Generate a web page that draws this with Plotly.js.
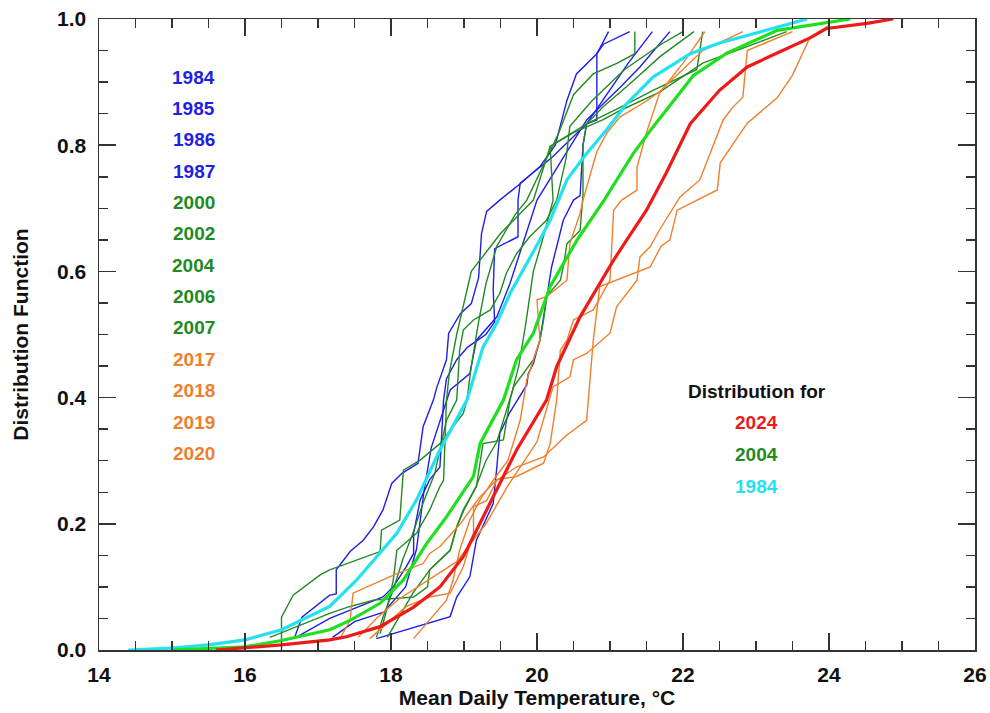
<!DOCTYPE html>
<html>
<head>
<meta charset="utf-8">
<script src="https://cdn.plot.ly/plotly-3.0.1.min.js"></script>
<style>html,body{margin:0;padding:0;background:#fff;}#chart{width:990px;height:713px;}</style>
</head>
<body>
<div id="chart"></div>
<script>
// ---- thin yearly distributions ----
var x1984 = [16.68,16.78,17.16,17.25,17.25,17.44,17.62,17.76,17.89,18.01,18.15,18.37,18.44,18.58,18.63,18.76,18.79,18.95,19.1,19.2,19.24,19.31,19.49,19.77,20.04,20.25,20.41,20.54,20.82,20.98];
var y1984 = [0.02,0.052,0.087,0.089,0.127,0.156,0.174,0.195,0.222,0.264,0.28,0.296,0.354,0.396,0.417,0.46,0.502,0.533,0.549,0.59,0.66,0.695,0.713,0.739,0.766,0.80,0.871,0.913,0.945,0.98];
var x1985 = [16.7,17.16,17.89,18.03,18.21,18.31,18.31,18.4,18.53,18.67,18.72,18.76,18.9,19.05,19.3,19.42,19.4,19.42,19.74,19.74,19.77,20.2,20.68,20.82,20.82,20.91,21.27];
var y1985 = [0.02,0.05,0.084,0.10,0.132,0.153,0.185,0.238,0.27,0.29,0.396,0.43,0.46,0.48,0.50,0.52,0.57,0.636,0.655,0.713,0.74,0.78,0.834,0.84,0.945,0.96,0.98];
var x1986 = [17.8,18.81,18.9,19.08,19.17,19.4,19.45,19.49,19.62,19.86,19.88,19.95,20.04,20.13,20.2,20.36,20.5,20.59,20.63,20.68,20.95,21.25,21.58];
var y1986 = [0.018,0.053,0.084,0.116,0.174,0.232,0.29,0.343,0.375,0.42,0.438,0.454,0.491,0.554,0.607,0.681,0.713,0.72,0.80,0.834,0.88,0.93,0.98];
var x1987 = [17.2,17.5,17.9,18.2,18.35,18.45,18.55,18.67,18.81,19.08,19.17,19.45,19.63,20.0,20.3,20.68,21.14,21.41,21.82];
var y1987 = [0.02,0.045,0.06,0.10,0.16,0.25,0.32,0.364,0.412,0.438,0.491,0.528,0.581,0.713,0.77,0.84,0.892,0.924,0.98];
var x2000 = [16.5,16.5,16.66,17.03,17.16,17.85,17.87,18.12,18.17,18.4,18.67,18.99,19.04,19.1,19.2,19.3,19.45,19.7,19.86,20.13,20.3,20.5,20.77,21.1,21.34,21.34];
var y2000 = [0.0,0.052,0.087,0.119,0.127,0.156,0.19,0.206,0.285,0.301,0.327,0.375,0.396,0.45,0.52,0.58,0.64,0.69,0.713,0.78,0.82,0.88,0.913,0.93,0.945,0.98];
var x2002 = [16.34,17.16,17.44,17.76,18.31,18.5,18.53,18.81,18.9,18.99,19.17,19.26,19.54,19.63,19.75,19.85,19.95,20.1,20.22,20.2,20.18,20.68,21.14,21.59,22.19,22.27];
var y2002 = [0.02,0.058,0.069,0.079,0.084,0.10,0.127,0.158,0.195,0.222,0.259,0.327,0.333,0.396,0.45,0.52,0.60,0.66,0.713,0.76,0.798,0.834,0.86,0.887,0.92,0.98];
var x2004 = [17.8,17.89,18.03,18.16,18.3,18.44,18.6,18.76,18.9,18.92,18.94,18.99,19.13,19.36,19.49,19.58,19.72,19.9,20.13,20.27,20.4,20.45,20.75,21.2,21.7,22.0];
var y2004 = [0.02,0.052,0.095,0.143,0.185,0.233,0.28,0.364,0.396,0.438,0.475,0.507,0.523,0.539,0.565,0.597,0.628,0.655,0.681,0.713,0.78,0.83,0.87,0.92,0.96,0.98];
var x2006 = [17.95,18.3,18.53,18.81,18.9,19.0,19.17,19.3,19.45,19.54,19.68,19.95,20.04,20.09,20.13,20.32,20.36,20.41,20.59,20.63,20.63,20.68,20.9,21.3,21.68,22.15];
var y2006 = [0.02,0.09,0.127,0.158,0.195,0.222,0.26,0.30,0.33,0.364,0.417,0.46,0.491,0.523,0.56,0.586,0.607,0.644,0.665,0.72,0.80,0.834,0.86,0.90,0.94,0.98];
var x2007 = [17.85,17.94,18.03,18.08,18.35,18.53,18.67,18.72,18.76,18.8,18.9,19.0,19.1,19.3,19.5,19.95,20.18,20.5,20.9,21.14,21.68,22.27,23.42];
var y2007 = [0.026,0.063,0.11,0.158,0.185,0.222,0.259,0.269,0.396,0.44,0.50,0.55,0.60,0.63,0.66,0.713,0.798,0.82,0.84,0.855,0.884,0.93,0.98];
var x2017 = [17.3,17.44,17.48,17.67,18.08,18.44,18.53,18.67,18.95,19.2,19.45,19.72,20.09,20.18,20.27,20.32,20.41,20.5,20.59,20.77,21.0,21.05,21.16,21.37,21.37,21.5,21.68,22.0,22.3];
var y2017 = [0.018,0.047,0.09,0.10,0.121,0.137,0.153,0.164,0.20,0.24,0.27,0.275,0.296,0.327,0.396,0.475,0.491,0.523,0.528,0.539,0.586,0.697,0.713,0.729,0.765,0.82,0.883,0.93,0.98];
var x2018 = [17.71,17.99,18.21,18.53,18.81,18.99,19.13,19.13,19.31,19.45,19.72,20.09,20.4,20.68,20.77,20.86,21.55,21.7,21.82,21.92,22.47,22.51,22.88,23.29,23.5,23.74,24.0];
var y2018 = [0.018,0.047,0.069,0.084,0.09,0.132,0.185,0.227,0.237,0.269,0.29,0.306,0.34,0.364,0.49,0.576,0.607,0.64,0.65,0.697,0.729,0.772,0.835,0.875,0.911,0.971,0.99];
var x2019 = [18.31,18.53,18.76,18.85,18.94,19.08,19.22,19.4,19.6,19.77,19.86,20.04,20.0,20.13,20.41,20.45,20.59,20.63,20.82,20.96,21.14,21.5,21.68,22.27,22.82];
var y2019 = [0.018,0.047,0.079,0.111,0.158,0.206,0.238,0.269,0.30,0.364,0.428,0.491,0.555,0.56,0.586,0.644,0.692,0.713,0.79,0.82,0.845,0.87,0.885,0.95,0.98];
var x2020 = [17.55,17.8,18.1,18.5,18.9,19.3,19.6,20.0,20.22,20.45,20.5,20.68,21.0,21.09,21.37,21.41,21.55,21.68,21.96,22.23,22.41,22.55,22.68,22.82,22.88,23.5];
var y2020 = [0.02,0.05,0.08,0.11,0.14,0.20,0.26,0.33,0.417,0.433,0.46,0.47,0.502,0.544,0.586,0.623,0.639,0.666,0.718,0.745,0.80,0.84,0.86,0.876,0.95,0.98];

// ---- thick fitted distributions ----
var xDist1984 = [14.4,15.0,15.5,16.0,16.5,17.16,17.53,17.85,18.08,18.35,18.67,19.04,19.26,19.45,19.63,20.04,20.18,20.41,20.68,20.95,21.23,21.59,22.1,22.5,23.05,23.7];
var yDist1984 = [0.0,0.003,0.008,0.016,0.032,0.069,0.111,0.153,0.185,0.238,0.317,0.396,0.48,0.518,0.565,0.65,0.681,0.745,0.787,0.824,0.866,0.908,0.945,0.962,0.98,1.0];
var xDist2004 = [15.0,15.5,16.0,16.5,17.16,17.44,17.85,18.17,18.49,18.76,19.13,19.22,19.54,19.72,19.95,20.18,20.55,20.92,21.32,21.59,21.87,22.14,22.6,23.29,24.29];
var yDist2004 = [0.0,0.002,0.005,0.015,0.032,0.047,0.074,0.111,0.169,0.211,0.275,0.327,0.396,0.46,0.502,0.576,0.65,0.713,0.787,0.829,0.871,0.91,0.946,0.982,1.0];
var xDist2024 = [15.6,16.0,16.5,17.16,17.39,17.85,18.31,18.67,18.99,19.31,19.72,20.13,20.27,20.59,20.86,21.05,21.23,21.5,21.77,22.1,22.5,22.88,23.29,23.74,23.97,24.52,24.88];
var yDist2024 = [0.0,0.004,0.008,0.016,0.021,0.037,0.068,0.10,0.148,0.222,0.317,0.396,0.449,0.528,0.581,0.618,0.65,0.697,0.756,0.834,0.887,0.924,0.946,0.97,0.985,0.993,1.0];

var yearLabels = ["1984","1985","1986","1987","2000","2002","2004","2006","2007","2017","2018","2019","2020"];
var distLabels = ["2024","2004","1984"];

var BLUE = "#1f1fe6", DKGREEN = "#238a23", ORANGE = "#f07f2c";
var RED = "#ee1a1a", LTGREEN = "#1ee01e", CYAN = "#22e2f0";

var thin = [
  [x1984,y1984,BLUE],[x1985,y1985,BLUE],[x1986,y1986,BLUE],[x1987,y1987,BLUE],
  [x2000,y2000,DKGREEN],[x2002,y2002,DKGREEN],[x2004,y2004,DKGREEN],[x2006,y2006,DKGREEN],[x2007,y2007,DKGREEN],
  [x2017,y2017,ORANGE],[x2018,y2018,ORANGE],[x2019,y2019,ORANGE],[x2020,y2020,ORANGE]
];
var yearColors = [BLUE,BLUE,BLUE,BLUE,DKGREEN,DKGREEN,DKGREEN,DKGREEN,DKGREEN,ORANGE,ORANGE,ORANGE,ORANGE];

var traces = thin.map(function(t,i){
  return {x:t[0], y:t[1], type:"scatter", mode:"lines", name:yearLabels[i],
          line:{color:t[2], width:1.4}, hoverinfo:"skip"};
});
traces.push({x:xDist1984,y:yDist1984,type:"scatter",mode:"lines",line:{color:CYAN,width:3.2},name:"1984 dist"});
traces.push({x:xDist2004,y:yDist2004,type:"scatter",mode:"lines",line:{color:LTGREEN,width:3.2},name:"2004 dist"});
traces.push({x:xDist2024,y:yDist2024,type:"scatter",mode:"lines",line:{color:RED,width:3.2},name:"2024 dist"});

var FONT = "Liberation Sans, Arial, sans-serif";
var ann = [];
yearLabels.forEach(function(lab,i){
  ann.push({x:15.3, y:0.908-0.0497*i, xref:"x", yref:"y", text:"<b>"+lab+"</b>", showarrow:false,
            font:{family:FONT,size:19,color:yearColors[i]}});
});
ann.push({x:23.01, y:0.409, xref:"x", yref:"y", text:"<b>Distribution for</b>", showarrow:false,
          font:{family:FONT,size:19,color:"#111"}});
var distColors = [RED, DKGREEN, CYAN];
distLabels.forEach(function(lab,i){
  ann.push({x:23.01, y:0.36-0.0505*i, xref:"x", yref:"y", text:"<b>"+lab+"</b>", showarrow:false,
            font:{family:FONT,size:19,color:distColors[i]}});
});

var axisCommon = {
  showline:true, linecolor:"#333", linewidth:1.5, mirror:"allticks",
  ticks:"inside", ticklen:17, tickwidth:1.5, tickcolor:"#333",
  showgrid:false, zeroline:false,
  tickfont:{family:FONT,size:21,color:"#111",weight:"bold"}
};
var layout = {
  width:990, height:713,
  margin:{l:99, r:15, t:19, b:63},
  paper_bgcolor:"#fff", plot_bgcolor:"#fff",
  showlegend:false,
  xaxis:Object.assign({}, axisCommon, {
    range:[14,26], tick0:14, dtick:2, ticklabelstandoff:5,
    minor:{dtick:0.5, ticks:"inside", ticklen:9, tickwidth:1.5, tickcolor:"#333", showgrid:false},
    title:{text:"<b>Mean Daily Temperature, °C</b>", font:{family:FONT,size:21,color:"#111"}, standoff:5}
  }),
  yaxis:Object.assign({}, axisCommon, {
    range:[0,1], tick0:0, dtick:0.2, tickformat:".1f", ticklabelstandoff:7,
    minor:{dtick:0.05, ticks:"inside", ticklen:9, tickwidth:1.5, tickcolor:"#333", showgrid:false},
    title:{text:"<b>Distribution Function</b>", font:{family:FONT,size:21,color:"#111"}, standoff:22}
  }),
  annotations:ann
};
Plotly.newPlot("chart", traces, layout, {displayModeBar:false, staticPlot:true});
</script>
</body>
</html>
